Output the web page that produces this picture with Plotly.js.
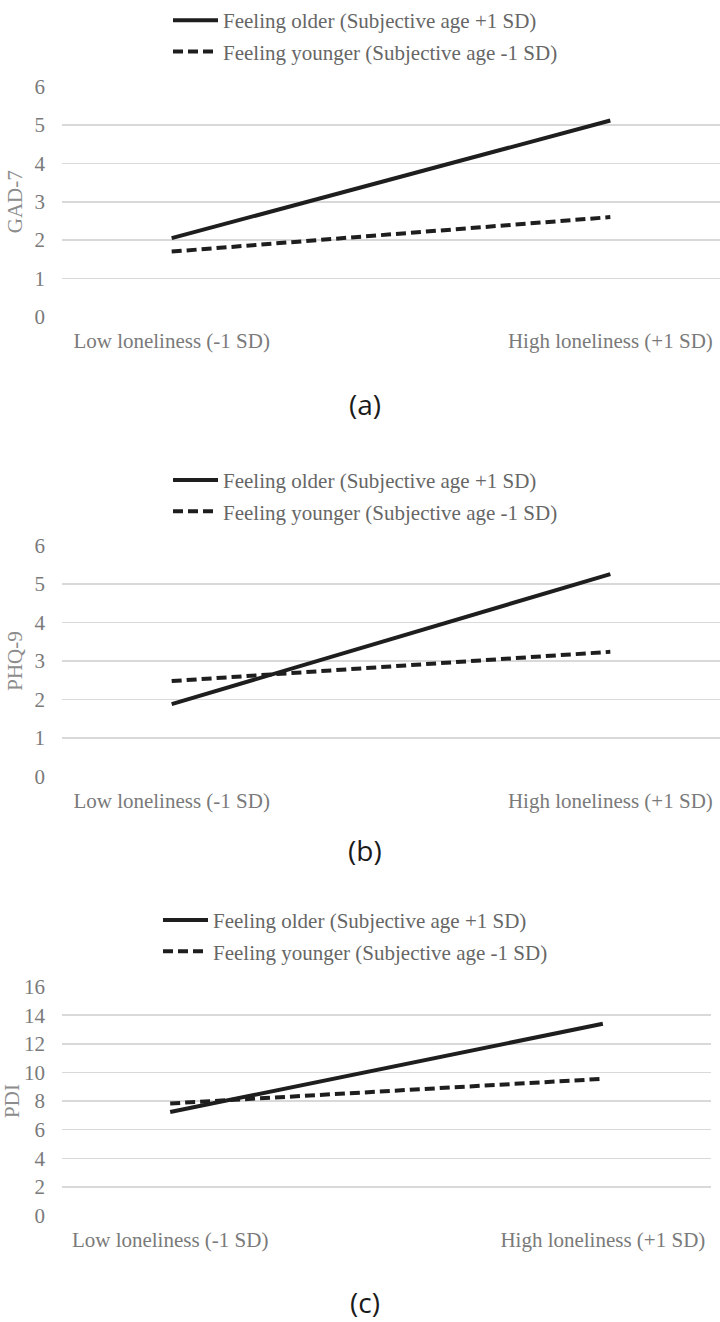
<!DOCTYPE html>
<html>
<head>
<meta charset="utf-8">
<script src="https://cdn.plot.ly/plotly-3.0.1.min.js"></script>
<style>
  html, body { margin: 0; padding: 0; background: #ffffff; }
  #chart { width: 720px; height: 1322px; }
</style>
</head>
<body>
<div id="chart"></div>
<script>
// ---- data ----
const categories = ['Low loneliness (-1 SD)', 'High loneliness (+1 SD)'];
const seriesNames = ['Feeling older (Subjective age +1 SD)', 'Feeling younger (Subjective age -1 SD)'];
const gadOlder = [2.05, 5.12];
const gadYounger = [1.70, 2.60];
const phqOlder = [1.88, 5.26];
const phqYounger = [2.48, 3.24];
const pdiOlder = [7.23, 13.40];
const pdiYounger = [7.83, 9.55];
const yTitles = ['GAD-7', 'PHQ-9', 'PDI'];
const yRanges = [[0, 6], [0, 6], [0, 16]];
const yDtick = [1, 1, 2];
const panelLabels = ['(a)', '(b)', '(c)'];

const H = 1322, W = 720;
const serif = '"Liberation Serif", "Times New Roman", serif';
const tickGrey = '#7a7a7a';
const legendGrey = '#666666';

// panel geometry in px (top, bottom of plot area; left, right)
const panels = [
  {top: 75, bottom: 308, left: 62, right: 720, labelY: 396, legY: -12, legX: 168},
  {top: 538, bottom: 772, left: 62, right: 720, labelY: 846, legY: 452, legX: 168},
  {top: 983, bottom: 1215, left: 62, right: 711, labelY: 1302, legY: 896, legX: 158}
];

const dataSets = [[gadOlder, gadYounger], [phqOlder, phqYounger], [pdiOlder, pdiYounger]];
const traces = [];
const layout = {
  width: W, height: H,
  margin: {l: 0, r: 0, t: 0, b: 0},
  paper_bgcolor: '#ffffff', plot_bgcolor: '#ffffff',
  showlegend: true,
  annotations: []
};

dataSets.forEach((pair, i) => {
  const n = i === 0 ? '' : String(i + 1);
  const p = panels[i];
  const legName = 'legend' + n;
  pair.forEach((vals, j) => {
    traces.push({
      type: 'scatter', mode: 'lines',
      x: categories, y: vals,
      name: seriesNames[j],
      xaxis: 'x' + n, yaxis: 'y' + n,
      legend: legName,
      legendgroup: 'g' + i + j,
      line: {color: '#1e1e1e', width: 4, dash: j === 0 ? 'solid' : '10px,5px'},
      hoverinfo: 'skip'
    });
  });
  const r = yRanges[i];
  const pad = (r[1] - r[0]) * 0.002;
  layout['xaxis' + n] = {
    type: 'category',
    domain: [p.left / W, p.right / W],
    range: [-0.25, 1.25],
    anchor: 'y' + n,
    showgrid: false, zeroline: false, showline: false,
    ticks: '',
    tickfont: {family: serif, size: 21, color: tickGrey},
    ticklabelstandoff: 9,
    fixedrange: true
  };
  layout['yaxis' + n] = {
    domain: [1 - p.bottom / H, 1 - p.top / H],
    range: [r[0] - pad, r[1] + pad],
    dtick: yDtick[i], tick0: 0,
    anchor: 'x' + n,
    showgrid: true, gridcolor: '#d9d9d9', gridwidth: 1.5,
    zeroline: false, showline: false,
    ticks: '',
    tickfont: {family: serif, size: 21, color: tickGrey},
    ticklabelstandoff: 16,
    title: {text: yTitles[i], font: {family: serif, size: 21, color: '#8c8c8c'}, standoff: 6},
    automargin: false,
    fixedrange: true
  };
  layout[legName] = {
    x: p.legX / W, xanchor: 'left',
    y: 1 - p.legY / H, yanchor: 'top',
    orientation: 'v',
    traceorder: 'grouped',
    tracegroupgap: 1,
    itemwidth: 45,
    bgcolor: 'rgba(0,0,0,0)',
    font: {family: serif, size: 21, color: legendGrey}
  };
  layout.annotations.push({
    text: panelLabels[i],
    xref: 'paper', yref: 'paper',
    x: 365 / W, y: 1 - p.labelY / H,
    xanchor: 'center', yanchor: 'middle',
    showarrow: false,
    font: {family: 'Open Sans, sans-serif', size: 28, color: '#1a1a1a'}
  });
});

Plotly.newPlot('chart', traces, layout, {displayModeBar: false, staticPlot: true});
</script>
</body>
</html>
